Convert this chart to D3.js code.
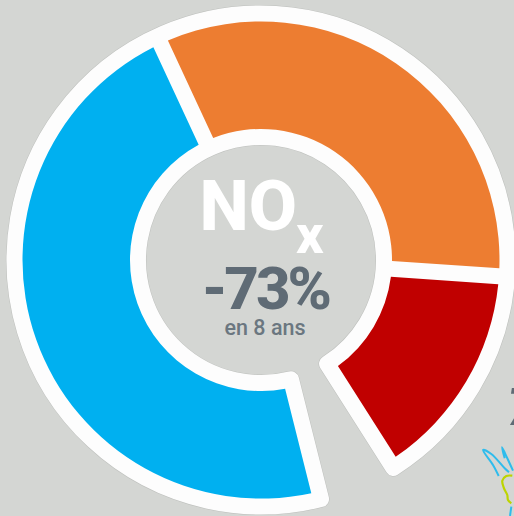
<!DOCTYPE html>
<html><head><meta charset="utf-8">
<script src="https://cdn.jsdelivr.net/npm/d3@7"></script>
<style>html,body{margin:0;padding:0;background:#d4d6d3;overflow:hidden}svg{display:block}text{font-family:Roboto,sans-serif}</style>
</head><body><svg id="c" width="514" height="516"></svg>
<script>
const categories = ["orange","rouge","vide","bleu"];
const values = [33.0, 14.9, 5.1, 47.0];
const colors = ["#ed7d31","#c00000","none","#00b0f0"];
const startDeg = -24.9;
const logoBlue = [
  [[498.7,476],[493,465],[483,450],[491.3,454],[504.7,468.3],[509,472.3]],
  [[504.7,458.3],[502,447.3],[507.3,458.3],[513,470.7]],
  [[511.3,506.7],[510,516]]
];
const logoYellow = [[512.3,475.7],[506.3,476],[502.3,480.7],[504,488.3],[507.3,495],[508,500],[511.3,503.3]];
const width = 514, height = 516, cx = 261, cy = 260;
const rInner = 131, rOuter = 238.5, border = 16;
const rad = d => d * Math.PI / 180;

const svg = d3.select("#c");
const g = svg.append("g").attr("transform", `translate(${cx},${cy})`);

const pie = d3.pie().sort(null).startAngle(rad(startDeg)).endAngle(rad(startDeg + 360));
const arcs = pie(values);
const gap = arcs[2];

const back = d3.arc().innerRadius(rInner - border / 2).outerRadius(rOuter + border / 2)
  .startAngle(gap.endAngle).endAngle(gap.startAngle + 2 * Math.PI);
g.append("path").attr("d", back()).attr("fill", "#a9aba8").attr("stroke", "#a9aba8")
  .attr("stroke-width", border + 1).attr("stroke-linejoin", "round").attr("opacity", 0.5);
g.append("path").attr("d", back()).attr("fill", "#fdfdfd").attr("stroke", "#fdfdfd")
  .attr("stroke-width", border).attr("stroke-linejoin", "round");

const arc = d3.arc().innerRadius(rInner).outerRadius(rOuter)
  .padAngle(border / 185).padRadius(185);
g.selectAll("path.seg").data(arcs.filter((d, i) => colors[i] !== "none")).join("path")
  .attr("class", "seg")
  .attr("fill", d => colors[d.index])
  .attr("d", arc);

const label = (t, x, y, size, weight, fill, anchor = "start", spacing = 0) =>
  svg.append("text").attr("x", x).attr("y", y).attr("font-size", size)
    .attr("font-weight", weight).attr("fill", fill).attr("text-anchor", anchor)
    .attr("letter-spacing", spacing).text(t);
label("NO", 199.5, 230, 70, 800, "#ffffff");
label("x", 296, 253, 54, 800, "#ffffff");
label("-73%", 265.5, 309, 60, 800, "#5f6b75", "middle", -3);
label("en 8 ans", 265, 335, 21.5, 500, "#6b7780", "middle");
label("7", 507, 425, 52, 700, "#5f6b75").attr("font-style", "italic");

const line = d3.line().curve(d3.curveCatmullRom);
svg.selectAll("path.logo").data(logoBlue).join("path").attr("class", "logo")
  .attr("d", line).attr("fill", "none").attr("stroke", "#2fbcec").attr("stroke-width", 2);
svg.append("path").attr("d", line(logoYellow)).attr("fill", "none")
  .attr("stroke", "#bdd400").attr("stroke-width", 2.2);
</script></body></html>
